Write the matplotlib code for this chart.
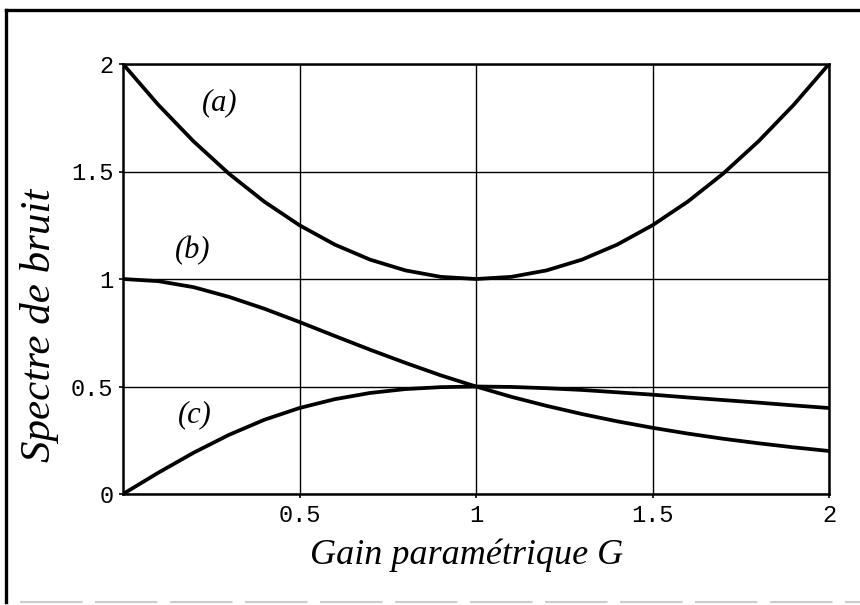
import matplotlib
matplotlib.use('Agg')
import matplotlib.pyplot as plt
from matplotlib.lines import Line2D

# gain values and the three noise spectra read at 0.1 steps
gain = [0.0, 0.1, 0.2, 0.3, 0.4, 0.5, 0.6, 0.7, 0.8, 0.9, 1.0,
        1.1, 1.2, 1.3, 1.4, 1.5, 1.6, 1.7, 1.8, 1.9, 2.0]
spec_a = [2.00, 1.81, 1.64, 1.49, 1.36, 1.25, 1.16, 1.09, 1.04, 1.01, 1.00,
          1.01, 1.04, 1.09, 1.16, 1.25, 1.36, 1.49, 1.64, 1.81, 2.00]
spec_b = [1.000, 0.990, 0.962, 0.917, 0.862, 0.800, 0.735, 0.671, 0.610, 0.552, 0.500,
          0.452, 0.410, 0.372, 0.338, 0.308, 0.281, 0.257, 0.236, 0.217, 0.200]
spec_c = [0.000, 0.099, 0.192, 0.275, 0.345, 0.400, 0.441, 0.470, 0.488, 0.497, 0.500,
          0.498, 0.492, 0.484, 0.473, 0.462, 0.449, 0.437, 0.425, 0.412, 0.400]

curve_labels = ['(a)', '(b)', '(c)']
label_pos = [(0.275, 1.82), (0.198, 1.13), (0.204, 0.37)]

xticks = [0.5, 1, 1.5, 2]
xtick_labels = ['0.5', '1', '1.5', '2']
yticks = [0, 0.5, 1, 1.5, 2]
ytick_labels = ['0', '0.5', '1', '1.5', '2']

serif = {'family': 'Liberation Serif', 'style': 'italic'}
mono = 'Liberation Mono'

fig = plt.figure(figsize=(8.6, 6.05), dpi=100)
ax = fig.add_axes([123 / 860, 1 - 494 / 605, 706 / 860, 430 / 605])

for ys in (spec_a, spec_b, spec_c):
    ax.plot(gain, ys, color='black', lw=2.7, solid_capstyle='butt', zorder=3)

for txt, (x, y) in zip(curve_labels, label_pos):
    ax.text(x, y, txt, fontsize=22, ha='center', va='center', **serif)

ax.set_xlim(0, 2)
ax.set_ylim(0, 2)
ax.set_xticks(xticks)
ax.set_xticklabels(xtick_labels, family=mono, fontsize=17)
ax.set_yticks(yticks)
ax.set_yticklabels(ytick_labels, family=mono, fontsize=17)
ax.tick_params(length=3, width=1.2, pad=4, colors='black')
ax.grid(True, color='black', lw=1.0)
for s in ax.spines.values():
    s.set_linewidth(1.8)

ax.set_xlabel('Gain paramétrique G', fontsize=26, **serif)
ax.xaxis.set_label_coords(0.487, -0.103)
ax.set_ylabel('Spectre de bruit', fontsize=31, **serif)
ax.yaxis.set_label_coords(-0.091, 0.393)

# page frame around the whole figure
fig.add_artist(Line2D([6 / 860, 6 / 860], [1 - 10 / 605, 1 - 602 / 605],
                      transform=fig.transFigure, color='black', lw=2.4))
fig.add_artist(Line2D([6 / 860, 1.0], [1 - 10 / 605, 1 - 10 / 605],
                      transform=fig.transFigure, color='black', lw=2.4))
fig.add_artist(Line2D([20 / 860, 1.0], [1 - 602 / 605, 1 - 602 / 605],
                      transform=fig.transFigure, color='#cccccc', lw=1.5,
                      linestyle=(0, (30, 6))))

fig.savefig('out.png', dpi=100)
